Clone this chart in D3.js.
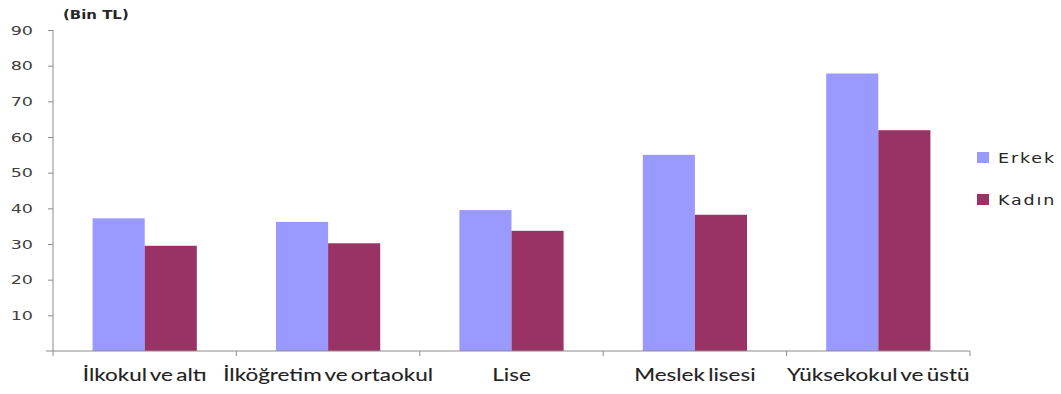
<!DOCTYPE html>
<html>
<head>
<meta charset="utf-8">
<script src="https://cdn.jsdelivr.net/npm/d3@7"></script>
<style>
  html, body { margin: 0; padding: 0; background: #fff; }
  svg { display: block; }
</style>
</head>
<body>
<svg id="chart" width="1061" height="394"></svg>
<script>
// Average annual earnings by education level and sex (thousand TL)
const categories = ["İlkokul ve altı", "İlköğretim ve ortaokul", "Lise", "Meslek lisesi", "Yüksekokul ve üstü"];
const seriesNames = ["Erkek", "Kadın"];
const erkek = [37.2, 36.2, 39.5, 55.0, 77.8];
const kadin = [29.5, 30.2, 33.7, 38.2, 61.9];
const yTicks = [10, 20, 30, 40, 50, 60, 70, 80, 90];
const unitLabel = "(Bin TL)";

const colors = { "Erkek": "#9999ff", "Kadın": "#993366" };

const svg = d3.select("#chart");
const margin = { left: 53, right: 91, top: 30, bottom: 43 };
const W = 1061, H = 394;
const plotW = W - margin.left - margin.right;
const plotH = H - margin.top - margin.bottom;

const g = svg.append("g").attr("transform", `translate(${margin.left},${margin.top})`);

const x = d3.scaleBand().domain(categories).range([0, plotW]).padding(0);
const xInner = d3.scaleBand().domain(seriesNames).range([0, x.bandwidth()])
  .paddingInner(0).paddingOuter(0.76);
const y = d3.scaleLinear().domain([0, 90]).range([plotH, 0]);

const rows = categories.map((c, i) => ({ category: c, values: [
  { key: "Erkek", value: erkek[i] },
  { key: "Kadın", value: kadin[i] }
]}));

// bars
g.selectAll("g.group").data(rows).join("g")
  .attr("class", "group")
  .attr("transform", d => `translate(${x(d.category)},0)`)
  .selectAll("rect").data(d => d.values).join("rect")
  .attr("x", d => xInner(d.key))
  .attr("width", xInner.bandwidth())
  .attr("y", d => y(d.value))
  .attr("height", d => plotH - y(d.value))
  .attr("fill", d => colors[d.key]);

const axisColor = "#8c8c8c";

// y axis
const yAxis = g.append("g").call(d3.axisLeft(y).tickValues(yTicks).tickSize(5).tickFormat(d3.format("d")));
yAxis.select(".domain").attr("stroke", axisColor).attr("d", `M0,0V${plotH}`);
yAxis.selectAll(".tick line").attr("stroke", axisColor);
yAxis.selectAll(".tick text")
  .attr("x", null).attr("dy", null)
  .attr("text-anchor", "end")
  .attr("dominant-baseline", "central")
  .attr("font-family", "DejaVu Sans")
  .attr("font-size", 13)
  .attr("fill", "#404040")
  .attr("transform", "translate(-20,0) scale(1.35,1)");

// x axis
const xAxis = g.append("g").attr("transform", `translate(0,${plotH})`);
xAxis.append("line").attr("x1", -7).attr("x2", plotW).attr("stroke", axisColor);
const boundaries = categories.map(c => x(c)).concat([plotW]);
xAxis.selectAll("line.tk").data(boundaries).join("line")
  .attr("class", "tk")
  .attr("x1", d => d).attr("x2", d => d)
  .attr("y1", 0).attr("y2", 5)
  .attr("stroke", axisColor);
xAxis.selectAll("text.cat").data(categories).join("text")
  .attr("class", "cat")
  .attr("text-anchor", "middle")
  .attr("font-family", "Lato")
  .attr("font-size", 18)
  .attr("word-spacing", -2)
  .attr("fill", "#222")
  .attr("stroke", "#222")
  .attr("stroke-width", 0.1)
  .attr("transform", d => `translate(${x(d) + x.bandwidth() / 2},30) scale(1.25,1)`)
  .text(d => d);

// unit label
svg.append("text")
  .attr("font-family", "DejaVu Sans")
  .attr("font-weight", "bold")
  .attr("font-size", 13)
  .attr("fill", "#262626")
  .attr("transform", "translate(63,19) scale(1.15,1)")
  .text(unitLabel);

// legend
const legend = svg.append("g").attr("transform", "translate(977,152)");
const li = legend.selectAll("g").data(seriesNames).join("g")
  .attr("transform", (d, i) => `translate(0,${i * 42})`);
li.append("rect").attr("width", 12).attr("height", 11).attr("fill", d => colors[d]);
li.append("text")
  .attr("font-family", "DejaVu Sans")
  .attr("font-size", 14)
  .attr("letter-spacing", 1.5)
  .attr("fill", "#262626")
  .attr("transform", "translate(21,11) scale(1.25,1)")
  .text(d => d);
</script>
</body>
</html>
